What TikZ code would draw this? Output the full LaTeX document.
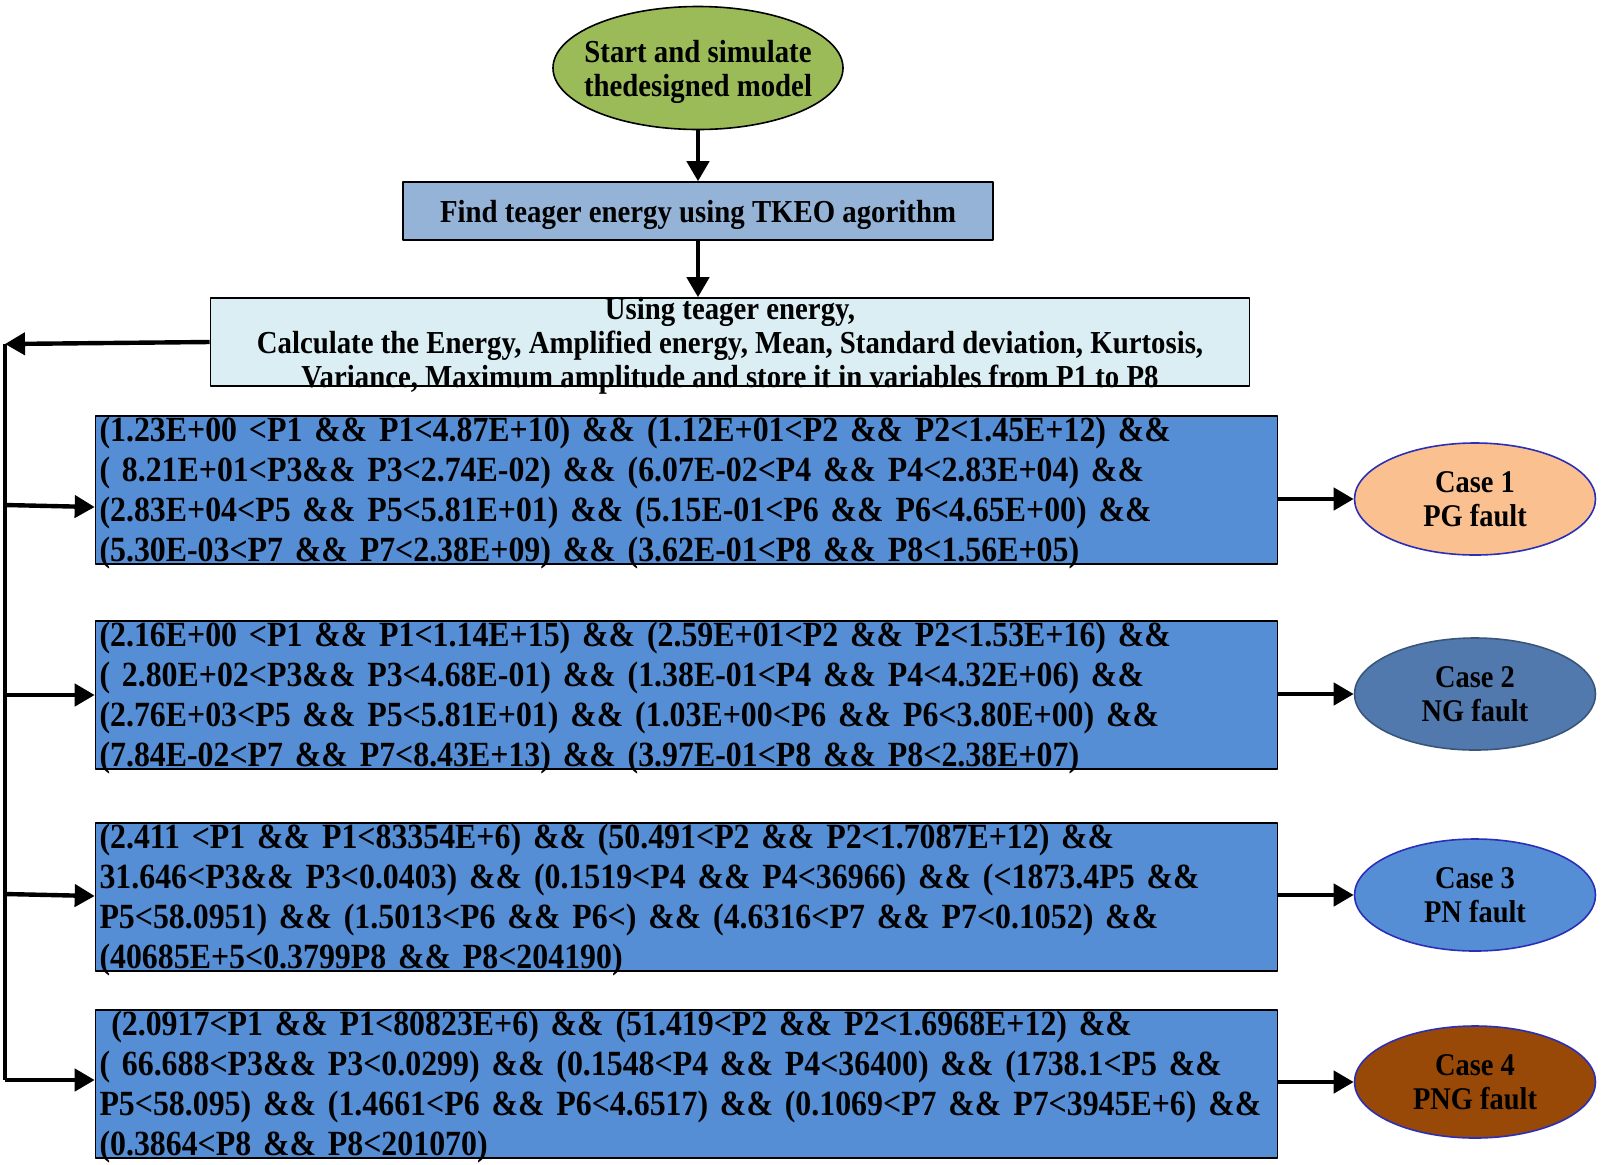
\documentclass[tikz,border=0pt]{standalone}
\usepackage{fontspec}
\setmainfont{Liberation Serif}[FakeStretch=0.9]
\usepackage{xcolor}
\usetikzlibrary{arrows.meta,shapes.geometric}
\definecolor{startgreen}{HTML}{9BBB59}
\definecolor{tkeoblue}{HTML}{95B3D7}
\definecolor{calccyan}{HTML}{DBEEF4}
\definecolor{condblue}{HTML}{558ED5}
\definecolor{peach}{HTML}{FAC090}
\definecolor{steel}{HTML}{5279AE}
\definecolor{rust}{HTML}{984807}
\definecolor{rim}{HTML}{2B2FB8}
\tikzset{
  every picture/.style={line join=round, >=Stealth},
  procbox/.style={draw=black, line width=0.8pt, rectangle, align=center, inner sep=0pt,
    text depth=0pt, font=\bfseries\fontsize{16}{17}\selectfont},
  condbox/.style={draw=black, line width=0.8pt, fill=condblue, align=left,
    text width=587pt, inner xsep=2pt, inner ysep=-3pt, minimum height=74pt,
    text height=15.3pt, font=\bfseries\fontsize{17.7}{20}\selectfont},
  casenode/.style={ellipse, draw=rim, line width=0.8pt, align=center, inner sep=0pt,
    minimum width=120.5pt, minimum height=56pt, font=\bfseries\fontsize{15.8}{17}\selectfont},
  flow/.style={line width=2.2pt, -{Triangle[length=10pt,width=11pt]}},
}
\begin{document}
\begin{tikzpicture}[x=0.5pt,y=-0.5pt]
\useasboundingbox (0,0) rectangle (1601,1164);
\node[ellipse, draw=black, line width=0.8pt, fill=startgreen, minimum width=145pt, minimum height=61.5pt,
  inner xsep=-6pt, inner ysep=0pt, text depth=0pt, align=center,
  font=\bfseries\fontsize{16}{17}\selectfont] (start) at (698,68)
  {Start and simulate\\thedesigned model};
\node[procbox, fill=tkeoblue, minimum width=295pt, minimum height=29pt] (tkeo) at (698,211)
  {Find teager energy using TKEO agorithm};
\node[procbox, fill=calccyan, minimum width=519.5pt, minimum height=44pt, inner ysep=-4pt] (calc) at (730,342)
  {Using teager energy,\\Calculate the Energy, Amplified energy, Mean, Standard deviation, Kurtosis,\\Variance, Maximum amplitude and store it in variables from P1 to P8};
\node[condbox] (cond1) at (686.5,490)
  {(1.23E+00 <P1 \&\& P1<4.87E+10) \&\& (1.12E+01<P2 \&\& P2<1.45E+12) \&\&\\
   ( 8.21E+01<P3\&\& P3<2.74E-02) \&\& (6.07E-02<P4 \&\& P4<2.83E+04) \&\&\\
   (2.83E+04<P5 \&\& P5<5.81E+01) \&\& (5.15E-01<P6 \&\& P6<4.65E+00) \&\&\\
   (5.30E-03<P7 \&\& P7<2.38E+09) \&\& (3.62E-01<P8 \&\& P8<1.56E+05)};
\node[condbox] (cond2) at (686.5,695)
  {(2.16E+00 <P1 \&\& P1<1.14E+15) \&\& (2.59E+01<P2 \&\& P2<1.53E+16) \&\&\\
   ( 2.80E+02<P3\&\& P3<4.68E-01) \&\& (1.38E-01<P4 \&\& P4<4.32E+06) \&\&\\
   (2.76E+03<P5 \&\& P5<5.81E+01) \&\& (1.03E+00<P6 \&\& P6<3.80E+00) \&\&\\
   (7.84E-02<P7 \&\& P7<8.43E+13) \&\& (3.97E-01<P8 \&\& P8<2.38E+07)};
\node[condbox] (cond3) at (686.5,897)
  {(2.411 <P1 \&\& P1<83354E+6) \&\& (50.491<P2 \&\& P2<1.7087E+12) \&\&\\
   31.646<P3\&\& P3<0.0403) \&\& (0.1519<P4 \&\& P4<36966) \&\& (<1873.4P5 \&\&\\
   P5<58.0951) \&\& (1.5013<P6 \&\& P6<) \&\& (4.6316<P7 \&\& P7<0.1052) \&\&\\
   (40685E+5<0.3799P8 \&\& P8<204190)};
\node[condbox] (cond4) at (686.5,1084)
  {\ (2.0917<P1 \&\& P1<80823E+6) \&\& (51.419<P2 \&\& P2<1.6968E+12) \&\&\\
   ( 66.688<P3\&\& P3<0.0299) \&\& (0.1548<P4 \&\& P4<36400) \&\& (1738.1<P5 \&\&\\
   P5<58.095) \&\& (1.4661<P6 \&\& P6<4.6517) \&\& (0.1069<P7 \&\& P7<3945E+6) \&\&\\
   (0.3864<P8 \&\& P8<201070)};
\node[casenode, fill=peach] (case1) at (1475,499) {Case 1\\PG fault};
\node[casenode, fill=steel, draw=steel!70!black] (case2) at (1475,694) {Case 2\\NG fault};
\node[casenode, fill=condblue] (case3) at (1475,895) {Case 3\\PN fault};
\node[casenode, fill=rust] (case4) at (1475,1082) {Case 4\\PNG fault};
\coordinate (top) at (5,344);
\coordinate (bot) at (5,1080);
\draw[flow] (start) -- (tkeo);
\draw[flow] (tkeo) -- (tkeo |- calc.north);
\draw[flow] (calc.west) -- (top);
\draw[line width=2.2pt] (top) -- (bot);
\draw[flow] (5,505) -- (cond1.west |- 0,507);
\draw[flow] (top |- cond2) -- (cond2);
\draw[flow] (5,894) -- (cond3.west |- 0,896);
\draw[flow] (bot) -- (cond4.west |- bot);
\draw[flow] (cond1.east |- case1) -- (case1);
\draw[flow] (cond2.east |- case2) -- (case2);
\draw[flow] (cond3.east |- case3) -- (case3);
\draw[flow] (cond4.east |- case4) -- (case4);
\end{tikzpicture}
\end{document}
